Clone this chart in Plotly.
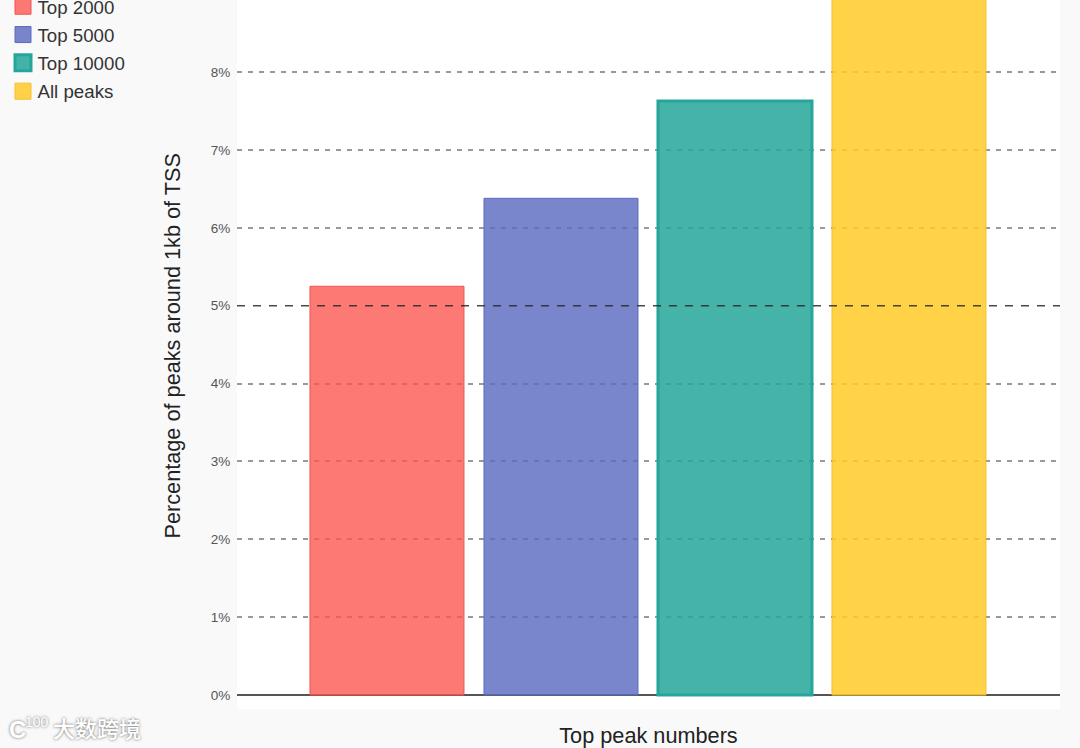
import plotly.graph_objects as go

categories = ["Top 2000", "Top 5000", "Top 10000", "All peaks"]
values = [5.25, 6.38, 7.63, 10.2]
fills = ["rgba(251,85,76,0.78)", "rgba(92,107,192,0.82)", "rgba(38,166,154,0.85)", "rgba(255,202,40,0.85)"]
edges = ["#EF5350", "#5C6BC0", "#26A69A", "#F5C02C"]
edge_widths = [1, 1, 3, 1]
y_ticks = [0, 1, 2, 3, 4, 5, 6, 7, 8]
y_tick_labels = ["0%", "1%", "2%", "3%", "4%", "5%", "6%", "7%", "8%"]
grey_grid_values = [1, 2, 3, 4, 6, 7, 8]
threshold = 5

W, H = 1080, 748
L, R, T, B = 237, 20, 0, 39
px_per_unit = 77.85
zero_y = 695
PW, PH = W - L - R, H - T - B
fig = go.Figure()
for c, v, f, e, w in zip(categories, values, fills, edges, edge_widths):
    fig.add_bar(x=[c], y=[v], width=0.885, marker=dict(color=f, line=dict(color=e, width=w)),
                name=c, showlegend=False, cliponaxis=True)
for c, f, e, w in zip(categories, fills, edges, edge_widths):
    fig.add_scatter(x=[None], y=[None], mode="markers", name=c, legendgroup=c,
                    marker=dict(symbol="square", size=18, color=f, line=dict(color=e, width=w)))

fig.add_hline(y=threshold, line=dict(color="rgba(40,40,40,0.85)", width=1.5, dash="8px,8px"), layer="above")

fig.update_layout(
    width=W, height=H, autosize=False, barmode="overlay",
    paper_bgcolor="#f9f9f9", plot_bgcolor="#ffffff",
    margin=dict(l=L, r=R, t=T, b=B, pad=0, autoexpand=False),
    font=dict(family="Liberation Sans, Arial, sans-serif", color="#333333"),
    legend=dict(x=-0.291, xanchor="left", y=1.0175, yanchor="top", bgcolor="rgba(0,0,0,0)",
                font=dict(size=18.7, color="#333333"), tracegroupgap=1, itemclick=False, itemdoubleclick=False),
    xaxis=dict(type="category", categoryorder="array", categoryarray=categories, range=[-0.862, 3.868],
               showticklabels=False, ticks="", showgrid=False, zeroline=False,
               title=dict(text="Top peak numbers", font=dict(size=21.7, color="#222222"), standoff=20)),
    yaxis=dict(range=[(zero_y - 709) / px_per_unit, zero_y / px_per_unit], tickmode="array",
               tickvals=y_ticks, ticktext=y_tick_labels, tickfont=dict(size=13.5, color="#555555"),
               ticks="outside", ticklen=3, tickcolor="rgba(0,0,0,0)", showgrid=False,
               minor=dict(tickvals=grey_grid_values, showgrid=True, gridcolor="#9a9a9a", gridwidth=1.5,
                          griddash="5px,6px", ticks=""),
               zeroline=True, zerolinecolor="#555555", zerolinewidth=1.6),
    annotations=[
        dict(text="Percentage of peaks around 1kb of TSS", textangle=-90, xref="paper", yref="paper",
             x=(172 - L) / PW, y=(709 - 346.5) / PH, xanchor="center", yanchor="middle", showarrow=False,
             font=dict(size=21.7, color="#222222")),
        dict(text="大数跨境", xref="paper", yref="paper", x=(51 - L) / PW, y=(709 - 727) / PH,
             xanchor="left", yanchor="middle", showarrow=False,
             font=dict(family="Noto Sans CJK SC", size=22, weight=500, color="#ffffff", shadow="0px 0px 3px #666666")),
        dict(text="100", xref="paper", yref="paper", x=(23 - L) / PW, y=(709 - 722) / PH,
             xanchor="left", yanchor="middle", showarrow=False,
             font=dict(size=14, color="#ffffff", shadow="0px 0px 3px #666666")),
        dict(text="C", xref="paper", yref="paper", x=(7 - L) / PW, y=(709 - 729) / PH,
             xanchor="left", yanchor="middle", showarrow=False,
             font=dict(size=24, weight=700, color="#ffffff", shadow="0px 0px 3px #666666")),
    ],
)
post = """
document.body.style.margin='0';
document.querySelectorAll('.legend .legendpoints').forEach(function(el){
  el.setAttribute('transform',(el.getAttribute('transform')||'')+' translate(5.5,0)');
});
"""
fig.write_html("out.html", config={"displayModeBar": False}, post_script=post)
